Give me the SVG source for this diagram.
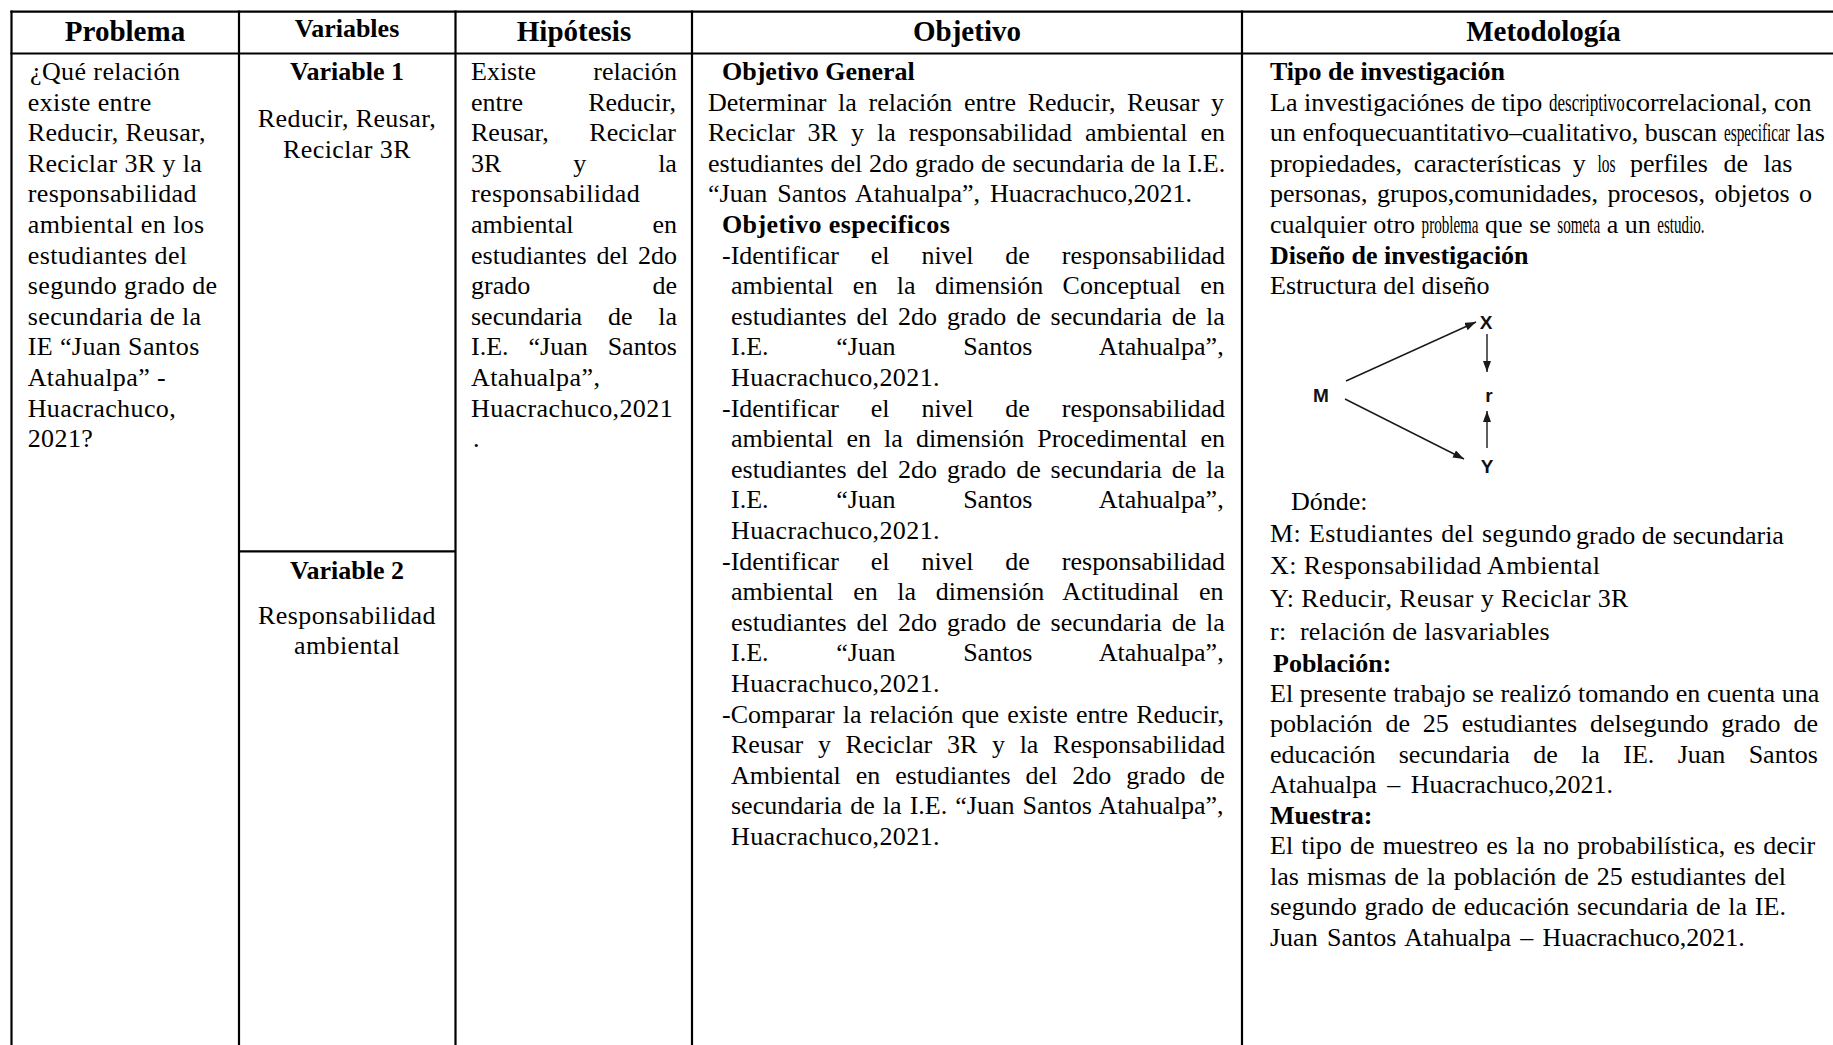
<svg xmlns="http://www.w3.org/2000/svg" width="1833" height="1045" viewBox="0 0 1833 1045">
<style>
.t{font-family:"Liberation Serif","Times New Roman",serif;font-size:26px;fill:#000}
.b{font-weight:bold}
.h{font-family:"Liberation Serif","Times New Roman",serif;font-size:29px;font-weight:bold;text-anchor:middle;fill:#000}
.c{text-anchor:middle}
.ls{letter-spacing:0.4px}
.ln{stroke:#000;stroke-width:2.2;fill:none}
.dg{font-family:"Liberation Sans",Arial,sans-serif;font-weight:bold;font-size:19px;fill:#111;text-anchor:middle}
.ar{stroke:#1a1a1a;stroke-width:1.4;fill:none}
</style>
<defs>
<marker id="ah" markerWidth="11" markerHeight="8" refX="11" refY="4" orient="auto" markerUnits="userSpaceOnUse">
<path d="M0,0 L11,4 L0,8 z" fill="#1a1a1a"/>
</marker>
</defs>
<rect x="0" y="0" width="1833" height="1045" fill="#fff"/>

<g id="grid">
<line class="ln" x1="10.4" y1="11.7" x2="1845" y2="11.7"/>
<line class="ln" x1="10.4" y1="53.5" x2="1845" y2="53.5"/>
<line class="ln" x1="11.5" y1="10.6" x2="11.5" y2="1045"/>
<line class="ln" x1="239" y1="10.6" x2="239" y2="1045"/>
<line class="ln" x1="455.5" y1="10.6" x2="455.5" y2="1045"/>
<line class="ln" x1="692" y1="10.6" x2="692" y2="1045"/>
<line class="ln" x1="1242" y1="10.6" x2="1242" y2="1045"/>
<line class="ln" x1="239" y1="551.4" x2="455.5" y2="551.4"/>
</g>

<g id="headers">
<text class="h" x="125" y="40.5">Problema</text>
<text class="t b c" x="347" y="37">Variables</text>
<text class="h" x="574" y="40.5">Hipótesis</text>
<text class="h" x="967" y="40.5">Objetivo</text>
<text class="h" x="1543.5" y="40.5">Metodología</text>
</g>

<g id="col-problema" class="t ls">
<text x="30" y="80">¿Qué relación</text>
<text x="27.7" y="110.6">existe entre</text>
<text x="27.7" y="141.2">Reducir, Reusar,</text>
<text x="27.7" y="171.8">Reciclar 3R y la</text>
<text x="27.7" y="202.4">responsabilidad</text>
<text x="27.7" y="233">ambiental en los</text>
<text x="27.7" y="263.6">estudiantes del</text>
<text x="27.7" y="294.2">segundo grado de</text>
<text x="27.7" y="324.8">secundaria de la</text>
<text x="27.7" y="355.4">IE “Juan Santos</text>
<text x="27.7" y="386">Atahualpa” -</text>
<text x="27.7" y="416.6">Huacrachuco,</text>
<text x="27.7" y="447.2">2021?</text>
</g>

<g id="col-variables" class="t">
<g id="variable-1">
<text class="b c" x="347" y="80">Variable 1</text>
<text class="c ls" x="347" y="127">Reducir, Reusar,</text>
<text class="c ls" x="347" y="157.5">Reciclar 3R</text>
</g>
<g id="variable-2">
<text class="b c" x="347" y="579">Variable 2</text>
<text class="c ls" x="347" y="624">Responsabilidad</text>
<text class="c ls" x="347" y="653.5">ambiental</text>
</g>
</g>

<g id="col-hipotesis" class="t">
<text x="471" y="80" word-spacing="50.8">Existe relación</text>
<text x="471" y="110.6" word-spacing="58.7">entre Reducir,</text>
<text x="471" y="141.2" word-spacing="34.2">Reusar, Reciclar</text>
<text x="471" y="171.8" word-spacing="65.4">3R y la</text>
<text class="ls" x="471" y="202.4">responsabilidad</text>
<text x="471" y="233" word-spacing="72.4">ambiental en</text>
<text x="471" y="263.6" word-spacing="3.35">estudiantes del 2do</text>
<text x="471" y="294.2" word-spacing="115.8">grado de</text>
<text x="471" y="324.8" word-spacing="19.25">secundaria de la</text>
<text x="471" y="355.4" word-spacing="13.45">I.E. “Juan Santos</text>
<text class="ls" x="471" y="386">Atahualpa”,</text>
<text class="ls" x="471" y="416.6">Huacrachuco,2021</text>
<text x="473" y="447.2">.</text>
</g>

<g id="col-objetivo" class="t">
<text class="b" x="722" y="80">Objetivo General</text>
<text x="708" y="110.6" word-spacing="5.2">Determinar la relación entre Reducir, Reusar y</text>
<text x="708" y="141.2" word-spacing="6.5">Reciclar 3R y la responsabilidad ambiental en</text>
<text x="708" y="171.8" word-spacing="0.4">estudiantes del 2do grado de secundaria de la I.E.</text>
<text x="708" y="202.4" word-spacing="3.5">“Juan Santos Atahualpa”, Huacrachuco,2021.</text>
<text class="b ls" x="722" y="233">Objetivo especificos</text>
<text x="722" y="263.6" word-spacing="25.4">-Identificar el nivel de responsabilidad</text>
<text x="731" y="294.2" word-spacing="12.86">ambiental en la dimensión Conceptual en</text>
<text x="731" y="324.8" word-spacing="3.41">estudiantes del 2do grado de secundaria de la</text>
<text x="731" y="355.4" word-spacing="61.2">I.E. “Juan Santos Atahualpa”,</text>
<text class="ls" x="731" y="386">Huacrachuco,2021.</text>
<text x="722" y="416.6" word-spacing="25.4">-Identificar el nivel de responsabilidad</text>
<text x="731" y="447.2" word-spacing="6.52">ambiental en la dimensión Procedimental en</text>
<text x="731" y="477.8" word-spacing="3.41">estudiantes del 2do grado de secundaria de la</text>
<text x="731" y="508.4" word-spacing="61.2">I.E. “Juan Santos Atahualpa”,</text>
<text class="ls" x="731" y="539">Huacrachuco,2021.</text>
<text x="722" y="569.6" word-spacing="25.4">-Identificar el nivel de responsabilidad</text>
<text x="731" y="600.2" word-spacing="13.16">ambiental en la dimensión Actitudinal en</text>
<text x="731" y="630.8" word-spacing="3.41">estudiantes del 2do grado de secundaria de la</text>
<text x="731" y="661.4" word-spacing="61.2">I.E. “Juan Santos Atahualpa”,</text>
<text class="ls" x="731" y="692">Huacrachuco,2021.</text>
<text x="722" y="722.6" word-spacing="1.65">-Comparar la relación que existe entre Reducir,</text>
<text x="731" y="753.2" word-spacing="8.2">Reusar y Reciclar 3R y la Responsabilidad</text>
<text x="731" y="783.8" word-spacing="8.43">Ambiental en estudiantes del 2do grado de</text>
<text x="731" y="814.4" word-spacing="1.58">secundaria de la I.E. “Juan Santos Atahualpa”,</text>
<text class="ls" x="731" y="845">Huacrachuco,2021.</text>
</g>

<g id="col-metodologia" class="t">
<text class="b" x="1270" y="80">Tipo de investigación</text>
<text x="1270" y="110.6">La investigaciónes de tipo</text>
<text transform="translate(1549,110.6) scale(0.655,1)">descriptivo</text>
<text x="1625.4" y="110.6">correlacional, con</text>
<text x="1270" y="141.2">un enfoquecuantitativo–cualitativo, buscan</text>
<text transform="translate(1724,141.2) scale(0.585,1)">especificar</text>
<text x="1825" y="141.2" text-anchor="end">las</text>
<text x="1270" y="171.8" word-spacing="5.2">propiedades, características y</text>
<text transform="translate(1597.5,171.8) scale(0.594,1)">los</text>
<text x="1630" y="171.8" word-spacing="9">perfiles de las</text>
<text x="1270" y="202.4" word-spacing="3">personas, grupos,comunidades, procesos, objetos o</text>
<text x="1270" y="233">cualquier otro</text>
<text transform="translate(1421.6,233) scale(0.58,1)">problema</text>
<text x="1485.1" y="233">que se</text>
<text transform="translate(1557.3,233) scale(0.583,1)">someta</text>
<text x="1606.8" y="233">a un</text>
<text transform="translate(1657.3,233) scale(0.58,1)">estudio.</text>
<text class="b" x="1270" y="263.6">Diseño de investigación</text>
<text x="1270" y="294.2">Estructura del diseño</text>

<g id="design-diagram">
<g id="node-M"><text class="dg" x="1321" y="401.7">M</text></g>
<g id="node-X"><text class="dg" x="1486" y="328.5">X</text></g>
<g id="node-r"><text class="dg" x="1489" y="401.7">r</text></g>
<g id="node-Y"><text class="dg" x="1487" y="473.3">Y</text></g>
<g id="connectors">
<line class="ar" x1="1346" y1="381" x2="1476" y2="322" marker-end="url(#ah)"/>
<line class="ar" x1="1345" y1="399" x2="1464" y2="459" marker-end="url(#ah)"/>
<line class="ar" x1="1487" y1="334" x2="1487" y2="372" marker-end="url(#ah)"/>
<line class="ar" x1="1487" y1="448" x2="1487" y2="411" marker-end="url(#ah)"/>
</g>
</g>

<text x="1291" y="510">Dónde:</text>
<text class="ls" x="1270" y="541.7" word-spacing="1">M: Estudiantes del segundo</text>
<text x="1576" y="543.5">grado de secundaria</text>
<text class="ls" x="1270" y="574">X: Responsabilidad Ambiental</text>
<text class="ls" x="1270" y="606.7">Y: Reducir, Reusar y Reciclar 3R</text>
<text x="1270" y="640" letter-spacing="0.25">r:&#160; relación de lasvariables</text>
<text class="b" x="1273" y="671.7">Población:</text>
<text x="1270" y="701.7" word-spacing="0.25">El presente trabajo se realizó tomando en cuenta una</text>
<text x="1270" y="732.2" word-spacing="6.37">población de 25 estudiantes delsegundo grado de</text>
<text x="1270" y="762.7" word-spacing="16.85">educación secundaria de la IE. Juan Santos</text>
<text x="1270" y="793.2" word-spacing="4">Atahualpa – Huacrachuco,2021.</text>
<text class="b" x="1270" y="823.7">Muestra:</text>
<text x="1270" y="854.2" word-spacing="1.7">El tipo de muestreo es la no probabilística, es decir</text>
<text x="1270" y="884.7" word-spacing="1.5">las mismas de la población de 25 estudiantes del</text>
<text x="1270" y="915.2" word-spacing="1.3">segundo grado de educación secundaria de la IE.</text>
<text x="1270" y="945.7" word-spacing="2.8">Juan Santos Atahualpa – Huacrachuco,2021.</text>
</g>
</svg>
